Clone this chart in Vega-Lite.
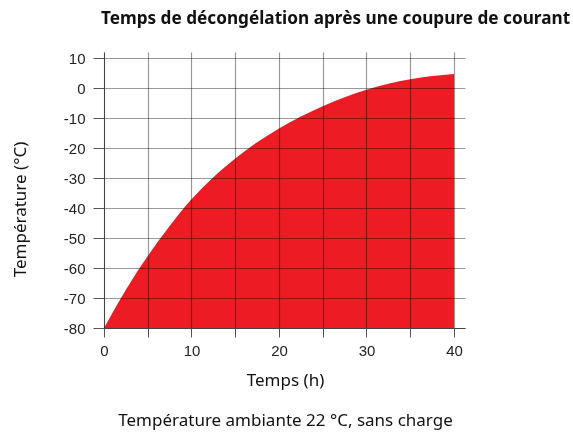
{
  "$schema": "https://vega.github.io/schema/vega-lite/v6.json",
  "autosize": "none",
  "padding": {"left": 104, "top": 52, "right": 108, "bottom": 104},
  "width": 361,
  "height": 276,
  "background": "white",
  "title": {
    "text": "Temps de décongélation après une coupure de courant",
    "font": "Noto Sans",
    "fontWeight": "bold",
    "fontSize": 17.2,
    "color": "#111111",
    "anchor": "middle",
    "frame": "group",
    "dx": 51,
    "offset": 24
  },
  "config": {
    "view": {"stroke": null},
    "axis": {
      "grid": true,
      "gridColor": "#000000",
      "gridOpacity": 0.4,
      "gridWidth": 1.2,
      "domainColor": "#444444",
      "domainWidth": 1,
      "tickColor": "#555555",
      "tickWidth": 1,
      "labelFont": "Liberation Sans",
      "labelFontSize": 15,
      "labelColor": "#222222",
      "titleFont": "Noto Sans",
      "titleFontSize": 17,
      "titleFontWeight": "normal",
      "titleColor": "#111111"
    }
  },
  "data": {
    "values": [
      {"t": 0, "temp": -80},
      {"t": 2.5, "temp": -67.25},
      {"t": 5, "temp": -56.0},
      {"t": 7.5, "temp": -46.0},
      {"t": 10, "temp": -37.1},
      {"t": 12.5, "temp": -29.75},
      {"t": 15, "temp": -23.5},
      {"t": 17.5, "temp": -18.1},
      {"t": 20, "temp": -13.5},
      {"t": 22.5, "temp": -9.5},
      {"t": 25, "temp": -6.05},
      {"t": 27.5, "temp": -3.05},
      {"t": 30, "temp": -0.55},
      {"t": 32.5, "temp": 1.45},
      {"t": 35, "temp": 2.95},
      {"t": 37.5, "temp": 4.0},
      {"t": 40, "temp": 4.7}
    ]
  },
  "mark": {"type": "area", "color": "#ed1c24", "interpolate": "monotone", "opacity": 1, "blend": "multiply"},
  "encoding": {
    "x": {
      "field": "t",
      "type": "quantitative",
      "scale": {"domain": [0, 41.26], "nice": false, "zero": false},
      "axis": {
        "values": [0, 5, 10, 15, 20, 25, 30, 35, 40],
        "labelExpr": "datum.value % 10 === 0 ? toString(datum.value) : ''",
        "tickSize": 9,
        "labelPadding": 6,
        "labelFlush": false,
        "title": ["Temps (h)", "Température ambiante 22 °C, sans charge"],
        "titleLineHeight": 40,
        "titleBaseline": "alphabetic",
        "titleX": 181,
        "titleY": 57,
        "titleAlign": "center"
      }
    },
    "y": {
      "field": "temp",
      "type": "quantitative",
      "scale": {"domain": [-80, 12], "nice": false, "zero": false},
      "axis": {
        "values": [-80, -70, -60, -50, -40, -30, -20, -10, 0, 10],
        "labelExpr": "toString(datum.value)",
        "tickSize": 11,
        "labelPadding": 8,
        "labelFlush": false,
        "title": "Température (°C)",
        "titleAngle": -90,
        "titleBaseline": "alphabetic",
        "titleAlign": "center",
        "titleX": -79,
        "titleY": 157
      }
    },
    "y2": {"datum": -80}
  }
}
